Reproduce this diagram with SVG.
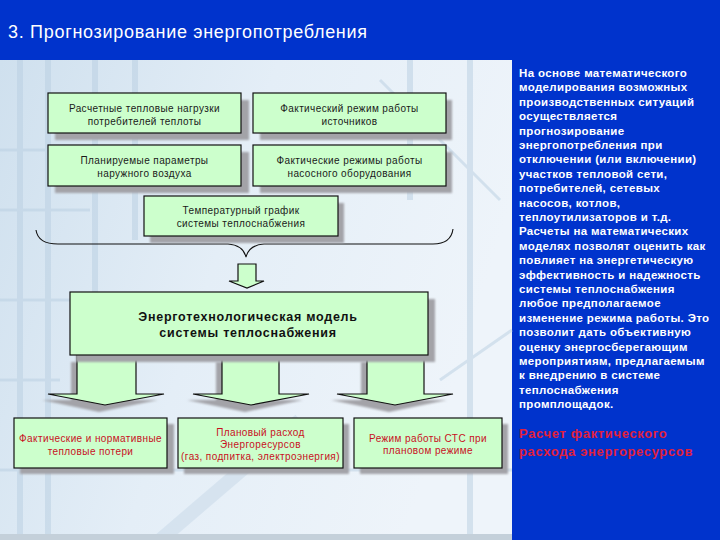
<svg xmlns="http://www.w3.org/2000/svg" width="720" height="540" viewBox="0 0 720 540">
<defs>
<linearGradient id="bg" x1="0" y1="0" x2="1" y2="0.3">
<stop offset="0" stop-color="#CFE0EE"/>
<stop offset="0.5" stop-color="#E4EEF7"/>
<stop offset="1" stop-color="#EEF4FA"/>
</linearGradient>
<filter id="blur" x="-5%" y="-5%" width="110%" height="110%"><feGaussianBlur stdDeviation="0.8"/></filter>
<style>
.box{fill:#CCFFCC;stroke:#111;stroke-width:1.2}
.sh{fill:#A3A3A8}
.t{font-family:"Liberation Sans",Arial,sans-serif;font-size:10px;letter-spacing:0.4px;fill:#1a1a1a;text-anchor:middle}
.r{fill:#C8101E}
.b{font-family:"Liberation Sans",Arial,sans-serif;font-size:12.5px;font-weight:bold;letter-spacing:0.75px;fill:#111;text-anchor:middle}
.p{font-family:"Liberation Sans",Arial,sans-serif;font-size:11.5px;font-weight:bold;letter-spacing:0.35px;fill:#FFFFFF}
.arr{fill:#CCFFCC;stroke:#111;stroke-width:1.2;stroke-linejoin:miter}
.deco{stroke:#B9CFE2;fill:none}
.red{font-family:"Liberation Sans",Arial,sans-serif;font-size:13px;font-weight:bold;letter-spacing:0.65px;fill:#E0203C}
</style>
</defs>
<rect x="0" y="0" width="720" height="540" fill="#0033CC"/>
<rect x="0" y="60" width="512" height="480" fill="url(#bg)"/>
<g opacity="0.5">
<path class="deco" stroke-width="6" d="M20,60 V540 M48,60 V540 M95,60 V300 M135,60 V240 M410,60 V200 M470,60 V540"/>
<path class="deco" stroke-width="3" d="M0,150 H140 M0,210 H90 M0,300 H70 M0,380 H60 M0,470 H512 M380,80 L500,200 M440,380 L512,330"/>
<path stroke="#C7D8E8" stroke-width="14" fill="none" d="M160,540 L300,420"/>
</g>
<rect x="0" y="534" width="512" height="6" fill="#C4D0DA"/>
<text x="8" y="38" font-family="'Liberation Sans',Arial,sans-serif" font-size="18" letter-spacing="0.7" fill="#FFFFFF">3. Прогнозирование энергопотребления</text>

<g id="connectors">
<path d="M36,230 Q38,244 58,244 L228,244 Q243,245 246,257 Q249,245 264,244 L433,244 Q451,244 453,229" fill="none" stroke="#111" stroke-width="1.1"/>
<path class="arr" d="M238,264 H256 V281 H264 L247,288 L229,281 H238 Z"/>
<g filter="url(#blur)">
<path class="sh" d="M71,362 H130 V400 H158 L99,412 L42,400 H71 Z"/>
<path class="sh" d="M216,362 H273 V400 H303 L245,412 L187,400 H216 Z"/>
<path class="sh" d="M361,362 H418 V400 H447 L389,412 L331,400 H361 Z"/>
</g>
<path class="arr" d="M77,350 H136 V394 H164 L105,405 L48,394 H77 Z"/>
<path class="arr" d="M222,350 H279 V394 H309 L251,405 L193,394 H222 Z"/>
<path class="arr" d="M367,350 H424 V394 H453 L395,405 L337,394 H367 Z"/>
</g>

<g id="n1">
<rect class="sh" x="55" y="100" width="194" height="40" filter="url(#blur)"/>
<rect class="box" x="48" y="93" width="193" height="40"/>
<text class="t" x="144.5" y="111.5">Расчетные тепловые нагрузки</text>
<text class="t" x="144.5" y="124.5">потребителей теплоты</text>
</g>
<g id="n2">
<rect class="sh" x="260" y="100" width="192" height="40" filter="url(#blur)"/>
<rect class="box" x="253" y="93" width="193" height="40"/>
<text class="t" x="349.5" y="111.5">Фактический режим работы</text>
<text class="t" x="349.5" y="124.5">источников</text>
</g>
<g id="n3">
<rect class="sh" x="55" y="152" width="194" height="41" filter="url(#blur)"/>
<rect class="box" x="48" y="145" width="193" height="41"/>
<text class="t" x="144.5" y="163.5">Планируемые параметры</text>
<text class="t" x="144.5" y="176.5">наружного воздуха</text>
</g>
<g id="n4">
<rect class="sh" x="260" y="152" width="192" height="41" filter="url(#blur)"/>
<rect class="box" x="253" y="145" width="193" height="41"/>
<text class="t" x="349.5" y="163.5">Фактические режимы работы</text>
<text class="t" x="349.5" y="176.5">насосного оборудования</text>
</g>
<g id="n5">
<rect class="sh" x="150" y="203" width="194" height="40" filter="url(#blur)"/>
<rect class="box" x="144" y="196" width="194" height="40"/>
<text class="t" x="241" y="214">Температурный график</text>
<text class="t" x="241" y="227">системы теплоснабжения</text>
</g>
<g id="n6">
<rect class="sh" x="76" y="299" width="359" height="63" filter="url(#blur)"/>
<rect class="box" x="70" y="292" width="358" height="63"/>
<text class="b" x="248" y="321">Энерготехнологическая модель</text>
<text class="b" x="248" y="337">системы теплоснабжения</text>
</g>
<g id="n7">
<rect class="sh" x="20" y="424" width="154" height="50" filter="url(#blur)"/>
<rect class="box" x="14" y="418" width="153" height="50"/>
<text class="t r" x="90.5" y="441.5">Фактические и нормативные</text>
<text class="t r" x="90.5" y="454.5">тепловые потери</text>
</g>
<g id="n8">
<rect class="sh" x="184" y="424" width="165" height="50" filter="url(#blur)"/>
<rect class="box" x="178" y="418" width="165" height="50"/>
<text class="t r" x="260.5" y="435.5">Плановый расход</text>
<text class="t r" x="260.5" y="447.5">Энергоресурсов</text>
<text class="t r" x="260.5" y="459.5" letter-spacing="0.3">(газ, подпитка, электроэнергия)</text>
</g>
<g id="n9">
<rect class="sh" x="360" y="424" width="148" height="50" filter="url(#blur)"/>
<rect class="box" x="354" y="418" width="148" height="50"/>
<text class="t r" x="428" y="441.5">Режим работы СТС при</text>
<text class="t r" x="428" y="453.5">плановом режиме</text>
</g>

<g id="panel">
<text class="p" x="519" y="77">
<tspan x="519" dy="0">На основе математического</tspan>
<tspan x="519" dy="14.4">моделирования возможных</tspan>
<tspan x="519" dy="14.4">производственных ситуаций</tspan>
<tspan x="519" dy="14.4">осуществляется</tspan>
<tspan x="519" dy="14.4">прогнозирование</tspan>
<tspan x="519" dy="14.4">энергопотребления при</tspan>
<tspan x="519" dy="14.4">отключении (или включении)</tspan>
<tspan x="519" dy="14.4">участков тепловой сети,</tspan>
<tspan x="519" dy="14.4">потребителей, сетевых</tspan>
<tspan x="519" dy="14.4">насосов, котлов,</tspan>
<tspan x="519" dy="14.4">теплоутилизаторов и т.д.</tspan>
<tspan x="519" dy="14.4">Расчеты на математических</tspan>
<tspan x="519" dy="14.4">моделях позволят оценить как</tspan>
<tspan x="519" dy="14.4">повлияет на энергетическую</tspan>
<tspan x="519" dy="14.4">эффективность и надежность</tspan>
<tspan x="519" dy="14.4">системы теплоснабжения</tspan>
<tspan x="519" dy="14.4">любое предполагаемое</tspan>
<tspan x="519" dy="14.4">изменение режима работы. Это</tspan>
<tspan x="519" dy="14.4">позволит дать объективную</tspan>
<tspan x="519" dy="14.4">оценку энергосберегающим</tspan>
<tspan x="519" dy="14.4">мероприятиям, предлагаемым</tspan>
<tspan x="519" dy="14.4">к внедрению в системе</tspan>
<tspan x="519" dy="14.4">теплоснабжения</tspan>
<tspan x="519" dy="14.4">промплощадок.</tspan>
</text>
<text class="red" x="519" y="438">Расчет фактического</text>
<text class="red" x="519" y="456">расхода энергоресурсов</text>
</g>
</svg>
